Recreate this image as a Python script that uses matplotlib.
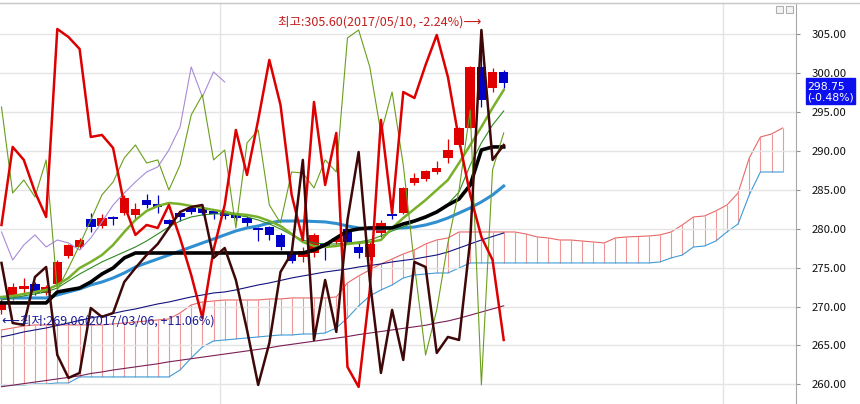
# libraries
import numpy as np
import matplotlib.pyplot as plt
from matplotlib.patches import Rectangle
from matplotlib.lines import Line2D

plt.rcParams['font.family'] = ['Noto Sans CJK KR', 'DejaVu Sans']

# daily candles (open / high / low / close)
opens = [269.57, 271.24, 272.26, 272.91, 271.75, 272.91, 276.51, 277.66, 281.26, 280.36,
         281.52, 282.03, 281.78, 283.70, 283.19, 281.13, 282.03, 282.68, 282.68, 282.29,
         282.16, 281.78, 281.39, 280.11, 280.23, 279.21, 276.89, 276.38, 276.89, 278.18,
         278.31, 279.98, 277.66, 276.38, 279.46, 281.91, 282.03, 285.89, 286.40, 287.30,
         289.10, 290.77, 292.96, 300.80, 298.10, 300.16]
closes = [270.59, 272.52, 272.65, 271.75, 272.52, 275.74, 277.92, 278.56, 280.23, 281.39,
          281.26, 283.96, 282.55, 283.06, 282.80, 280.62, 281.52, 282.16, 282.03, 281.91,
          281.65, 281.39, 280.75, 279.85, 279.21, 277.66, 275.86, 277.15, 279.21, 277.66,
          278.82, 278.31, 276.89, 278.05, 280.75, 281.65, 285.25, 286.53, 287.43, 287.82,
          290.13, 292.96, 300.80, 296.55, 300.16, 298.75]
highs = [271.0, 273.0, 273.7, 273.2, 272.8, 276.0, 278.1, 278.8, 282.0, 281.9,
         281.7, 284.3, 283.3, 284.5, 284.35, 281.3, 282.2, 283.0, 283.0, 282.5,
         282.4, 282.0, 281.6, 280.2, 280.4, 279.4, 277.3, 277.7, 279.5, 278.3,
         279.0, 280.2, 278.3, 278.3, 281.1, 282.2, 285.4, 287.2, 287.6, 288.7,
         291.5, 293.1, 300.9, 305.6, 300.65, 300.4]
lows = [269.06, 270.9, 271.5, 271.5, 271.5, 272.6, 276.2, 277.4, 279.6, 280.1,
        280.5, 281.8, 281.3, 282.7, 282.05, 280.4, 281.0, 281.9, 281.8, 281.3,
        281.2, 281.0, 280.25, 278.4, 278.6, 277.3, 275.6, 275.7, 276.4, 276.0,
        278.1, 278.0, 276.3, 276.0, 279.0, 281.3, 281.9, 285.6, 286.2, 287.1,
        288.5, 290.6, 292.9, 295.66, 297.58, 298.1]

# moving averages / base line
base_line = [270.47, 270.47, 270.47, 270.47, 270.47, 271.88, 272.14, 272.39, 273.16, 274.19,
             274.96, 276.25, 276.89, 276.89, 276.89, 276.89, 276.89, 276.89, 276.89, 276.89,
             276.89, 276.89, 276.89, 276.89, 276.89, 276.89, 276.89, 276.89, 277.28, 277.92,
             278.82, 279.72, 279.98, 280.11, 280.11, 280.11, 280.62, 281.00, 281.52, 282.16,
             283.06, 283.83, 285.63, 290.13, 290.52, 290.52]
ma_blue = [271.11, 271.11, 271.11, 271.11, 271.11, 271.49, 271.88, 272.26, 272.78, 273.16,
           273.68, 274.32, 275.09, 275.61, 276.12, 276.63, 277.15, 277.66, 278.18, 278.69,
           279.21, 279.72, 280.11, 280.36, 280.75, 281.00, 281.00, 281.00, 280.94, 280.88,
           280.68, 280.36, 280.11, 279.98, 279.98, 280.11, 280.11, 280.23, 280.49, 280.88,
           281.39, 282.03, 282.68, 283.45, 284.35, 285.50]
ma_green = [271.24, 271.37, 271.62, 271.88, 272.14, 272.78, 273.68, 274.96, 275.74, 276.63,
            277.92, 279.59, 281.13, 282.29, 282.93, 283.32, 283.19, 282.93, 282.68, 282.42,
            282.16, 281.91, 281.78, 281.52, 281.00, 280.36, 279.33, 278.31, 277.79, 277.66,
            277.79, 278.05, 278.18, 278.31, 278.56, 280.11, 281.39, 282.55, 283.70, 284.99,
            286.27, 288.46, 290.77, 293.09, 295.53, 297.84]
ma_dark = [270.85, 271.11, 271.37, 271.62, 271.88, 272.39, 273.29, 274.19, 274.96, 275.74,
           276.38, 277.02, 277.66, 278.43, 279.33, 280.23, 281.00, 281.52, 281.78, 281.91,
           281.91, 281.78, 281.52, 281.13, 280.62, 279.98, 279.21, 278.56, 278.18, 278.05,
           278.05, 278.18, 278.31, 278.56, 279.08, 279.72, 280.23, 280.88, 281.39, 282.16,
           283.19, 284.73, 288.20, 291.03, 293.34, 295.14]
ma_navy = [266.10, 266.40, 266.74, 267.00, 267.25, 267.57, 267.89, 268.22, 268.54, 268.79,
           269.12, 269.44, 269.69, 270.02, 270.34, 270.59, 270.92, 271.24, 271.49, 271.75,
           271.88, 272.14, 272.46, 272.78, 273.04, 273.36, 273.68, 273.94, 274.19, 274.45,
           274.64, 274.83, 275.09, 275.28, 275.48, 275.74, 275.93, 276.12, 276.38, 276.63,
           277.02, 277.53, 278.05, 278.56, 279.01, 279.46]
ma_wine = [259.7, 259.9, 260.1, 260.3, 260.5, 260.7, 260.9, 261.1, 261.4, 261.6,
           261.85, 262.05, 262.25, 262.45, 262.65, 262.9, 263.1, 263.3, 263.5, 263.7,
           263.9, 264.1, 264.3, 264.5, 264.7, 264.95, 265.15, 265.35, 265.55, 265.75,
           265.95, 266.15, 266.4, 266.6, 266.8, 267.0, 267.2, 267.4, 267.6, 267.9,
           268.15, 268.5, 268.9, 269.3, 269.7, 270.1]

# oscillator style overlays
red_line = [280.49, 290.52, 288.85, 284.73, 281.52, 305.68, 304.65, 303.11, 291.80, 292.06,
            290.39, 283.06, 279.21, 280.49, 280.11, 283.06, 278.82, 274.06, 268.54, 277.28,
            283.06, 292.70, 286.92, 293.99, 301.70, 295.91, 284.35, 278.56, 296.30, 285.63,
            292.32, 262.24, 259.67, 272.14, 293.99, 282.03, 297.58, 296.81, 301.06, 304.91,
            299.51, 291.42, 284.35, 278.95, 275.99, 265.71]
dark_line = [275.61, 267.89, 267.64, 273.81, 275.09, 263.78, 260.83, 261.47, 269.82, 268.67,
             269.18, 273.16, 274.96, 276.63, 278.05, 280.11, 282.16, 282.80, 283.06, 276.25,
             277.53, 273.42, 267.00, 259.93, 265.32, 274.45, 276.89, 288.85, 265.71, 273.42,
             266.74, 281.13, 289.87, 273.42, 261.47, 269.57, 263.14, 275.74, 275.09, 264.04,
             266.10, 265.71, 278.56, 305.55, 288.85, 290.77]
olive_line = [295.66, 284.60, 286.27, 284.09, 288.85, 272.14, 274.96, 277.92, 281.13, 284.35,
              286.02, 289.10, 290.77, 288.46, 288.85, 284.99, 288.20, 294.63, 297.20, 288.85,
              290.13, 280.11, 291.03, 292.70, 283.06, 280.75, 287.30, 287.17, 285.25, 288.85,
              287.30, 304.53, 305.55, 300.80, 292.32, 297.58, 288.20, 275.35, 263.78, 269.57,
              278.18, 284.99, 295.27, 259.93, 287.56, 292.32]
violet_line = [279.59, 275.99, 277.92, 279.21, 277.66, 278.56, 278.18, 277.28, 278.82, 280.88,
               283.06, 284.60, 286.02, 287.30, 287.95, 290.13, 293.09, 300.80, 296.94, 300.16,
               298.87]

# cloud (leading spans, shifted 25 days ahead)
span_a = [266.99, 267.25, 267.51, 267.64, 267.64, 267.64, 267.64, 267.64, 267.64, 267.64,
          267.77, 267.89, 268.02, 268.15, 268.28, 268.41, 269.18, 270.21, 270.59, 270.72,
          270.85, 270.85, 270.85, 270.85, 270.98, 270.98, 271.11, 271.11, 271.11, 271.11,
          271.24, 273.04, 273.94, 274.71, 275.48, 276.12, 276.76, 277.28, 278.05, 278.56,
          278.82, 279.59, 279.59, 279.59, 279.59, 279.59, 279.59, 279.33, 278.95, 278.82,
          278.56, 278.56, 278.43, 278.31, 278.18, 278.82, 278.95, 279.01, 279.08, 279.21,
          279.59, 280.49, 281.52, 281.65, 282.29, 283.06, 284.60, 289.10, 291.80, 292.19,
          292.96]
span_b = [259.93, 259.93, 259.93, 260.06, 260.06, 260.18, 260.18, 260.96, 260.96, 260.96,
          260.96, 260.96, 260.96, 260.96, 260.96, 260.96, 261.85, 263.40, 264.81, 265.58,
          265.71, 265.84, 265.97, 266.10, 266.23, 266.35, 266.35, 266.48, 266.48, 266.61,
          267.25, 268.54, 270.08, 271.37, 272.14, 272.78, 273.68, 274.06, 274.19, 274.32,
          274.32, 274.96, 275.61, 275.61, 275.61, 275.61, 275.61, 275.61, 275.61, 275.61,
          275.61, 275.61, 275.61, 275.61, 275.61, 275.61, 275.61, 275.61, 275.61, 275.74,
          276.25, 276.63, 277.66, 277.79, 278.43, 279.59, 280.62, 284.35, 287.30, 287.30,
          287.30]

x = np.arange(len(closes))
xc = np.arange(len(span_a))

fig = plt.figure(figsize=(8.6, 4.04), dpi=100)
ax = fig.add_axes([0, 0, 796 / 860, 401 / 404])
ax.set_xlim(-0.134, 71.19)
ax.set_ylim(257.48, 309.02)

# grid
ax.set_yticks(np.arange(260, 306, 5))
ax.grid(axis='y', color='#e4e4e4', lw=1, zorder=0)
for xv in [19.58, 64.65]:
    ax.axvline(xv, color='#e4e4e4', lw=1, zorder=0)

# cloud
ax.vlines(xc, span_b, span_a, color='#f09898', lw=0.8, zorder=1)
ax.plot(xc, span_a, color='#e86868', lw=0.8, zorder=1)
ax.plot(xc, span_b, color='#3f9bd6', lw=0.8, zorder=1)

# candles
o = np.array(opens)
c = np.array(closes)
cols = np.where(c >= o, '#e00000', '#0000c8')
body = np.maximum(np.abs(c - o), 0.18)
ax.vlines(x, lows, highs, color=cols, lw=0.9, zorder=2)
ax.bar(x, body, bottom=np.minimum(o, c), width=0.85, color=cols, zorder=2)

# lines
ax.plot(x, ma_wine, color='#7a1f55', lw=0.8, zorder=3)
ax.plot(x, ma_navy, color='#12127e', lw=0.8, zorder=3)
ax.plot(x, ma_blue, color='#2f8fd0', lw=2.2, zorder=3)
ax.plot(x, ma_dark, color='#2f8a22', lw=0.8, zorder=3)
ax.plot(x, ma_green, color='#78b02a', lw=1.8, zorder=3)
ax.plot(x, base_line, color='#000000', lw=2.6, zorder=4)
ax.plot(np.arange(len(violet_line)), violet_line, color='#a88ad8', lw=0.8, zorder=4)
ax.plot(x, olive_line, color='#6a9e1c', lw=0.8, zorder=4)
ax.plot(x, red_line, color='#dd0000', lw=1.8, zorder=5)
ax.plot(x, dark_line, color='#3e0808', lw=1.8, zorder=5)

# high / low labels
ax.text(43, 306.6, '최고:305.60(2017/05/10, -2.24%)⟶', color='#c41e1e',
        fontsize=9, ha='right', va='center', zorder=6)
ax.text(0.05, 268.2, '⟵최저:269.06(2017/03/06, +11.06%)', color='#1c1c96',
        fontsize=9, ha='left', va='center', zorder=6)

# axis styling
ax.yaxis.tick_right()
ax.yaxis.set_major_formatter('{x:.2f}')
ax.tick_params(axis='y', length=3, width=0.8, color='#909090', pad=8,
               labelsize=8.2, labelcolor='#111111')
ax.set_xticks([])
ax.spines['left'].set_visible(False)
ax.spines['bottom'].set_visible(False)
ax.spines['right'].set_color('#a8a8a8')
ax.spines['top'].set_color('#c8c8c8')

fig.add_artist(Line2D([0, 1], [1 - 2.5 / 404] * 2, color='#c8c8c8', lw=1))

# current price box
fig.add_artist(Rectangle((806 / 860, 1 - 104 / 404), 49 / 860, 26 / 404,
                         color='#0c10ee', zorder=10))
fig.text(807 / 860, 1 - 86.5 / 404, '298.75', color='white', fontsize=7.8,
         family='DejaVu Sans', va='center', ha='left', zorder=11)
fig.text(807 / 860, 1 - 98 / 404, '(-0.48%)', color='white', fontsize=7.8,
         family='DejaVu Sans', va='center', ha='left', zorder=11)

# window buttons
for bx in [776, 786]:
    fig.add_artist(Rectangle((bx / 860, 1 - 13 / 404), 7 / 860, 7 / 404,
                             facecolor='#f4f4f4', edgecolor='#b0b0b0', lw=0.8))

fig.savefig('out.png', dpi=100)
